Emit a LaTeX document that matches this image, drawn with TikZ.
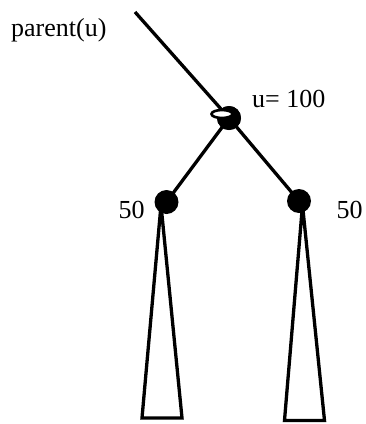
\documentclass[tikz,border=0pt]{standalone}
\usepackage{fontspec}
\setmainfont{Liberation Serif}
\begin{document}
\begin{tikzpicture}[x=1pt,y=-1pt,
  vert/.style={circle,fill=black,draw=none,minimum size=24pt,inner sep=0pt},
  lbl/.style={anchor=base west,inner sep=0pt,font=\fontsize{26}{30}\selectfont},
  edge/.style={line width=3.3pt},
  subtree/.style={line width=3.3pt,line join=miter}]
\useasboundingbox (0,0) rectangle (365,424);
% subtrees
\coordinate (lt) at (161,205);
\coordinate (rt) at (302.5,205);
\draw[subtree] (lt) -- (142,418) -- (182,418) -- cycle;
\draw[subtree] (rt) -- (284.5,420.5) -- (324.5,420.5) -- cycle;
% vertices
\node[vert] (u) at (229,118) {};
\node[vert] (l) at (166.5,202) {};
\node[vert] (r) at (299,201) {};
\coordinate (p) at (135,12);
\draw[edge] (p) -- (u.center);
\draw[edge] (u.center) -- (l.center);
\draw[edge] (u.center) -- (r.center);
\node[vert] at (u) {};
\draw[line width=2.6pt,fill=white] (222,114) ellipse [x radius=10.5, y radius=4];
% labels
\node[lbl] (tp) at (11,36) {parent(u)};
\node[lbl] (tu) at (252,107) {u= 100};
\node[lbl] (tl) at (118.5,218) {50};
\node[lbl] (tr) at (336.5,218) {50};
\end{tikzpicture}
\end{document}
